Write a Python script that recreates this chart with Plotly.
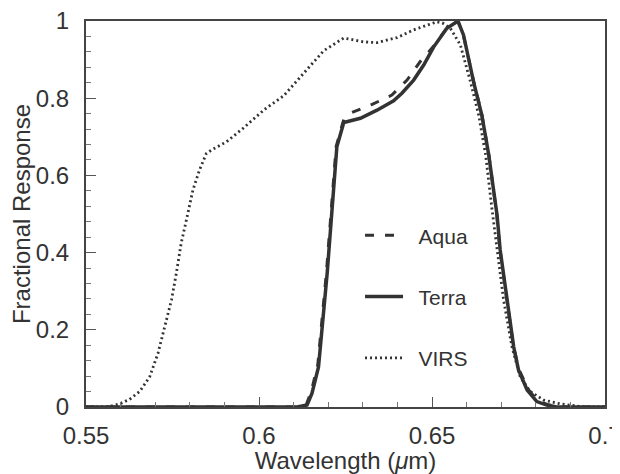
import plotly.graph_objects as go

# Terra (solid)
terra_wl = [0.550, 0.611, 0.6139, 0.6153, 0.6172, 0.6197, 0.6225, 0.6245, 0.6293, 0.6341,
            0.6389, 0.6413, 0.6447, 0.6476, 0.6505, 0.6543, 0.6575, 0.6591, 0.6620, 0.6644,
            0.6664, 0.6688, 0.6697, 0.6717, 0.6736, 0.6750, 0.6775, 0.6803, 0.6832, 0.686, 0.700]
terra_r = [0.0, 0.0, 0.005, 0.035, 0.104, 0.346, 0.674, 0.737, 0.748, 0.769,
           0.793, 0.813, 0.847, 0.886, 0.933, 0.981, 1.0, 0.964, 0.843, 0.756,
           0.653, 0.497, 0.407, 0.277, 0.156, 0.096, 0.044, 0.014, 0.005, 0.0, 0.0]

# Aqua (dashed)
aqua_wl = [0.550, 0.6108, 0.6137, 0.6151, 0.6170, 0.6195, 0.6223, 0.6245, 0.6269, 0.6327,
           0.6384, 0.6428, 0.6466, 0.6505, 0.6543, 0.6575, 0.6591, 0.6620, 0.6644, 0.6664,
           0.6687, 0.6696, 0.6716, 0.6735, 0.6750, 0.6777, 0.6805, 0.6835, 0.687, 0.700]
aqua_r = [0.0, 0.0, 0.007, 0.04, 0.11, 0.35, 0.675, 0.745, 0.763, 0.784,
          0.808, 0.847, 0.895, 0.935, 0.982, 1.0, 0.962, 0.845, 0.758, 0.655,
          0.50, 0.41, 0.28, 0.16, 0.10, 0.047, 0.016, 0.006, 0.0, 0.0]

# VIRS (dotted)
virs_wl = [0.550, 0.556, 0.5597, 0.5626, 0.5655, 0.5684, 0.5708, 0.5727, 0.5747, 0.5761,
           0.5775, 0.5790, 0.5809, 0.5828, 0.5848, 0.5867, 0.5906, 0.5954, 0.6016, 0.6071,
           0.6129, 0.6187, 0.6245, 0.6302, 0.6341, 0.6399, 0.6447, 0.6486, 0.6514, 0.6530,
           0.6553, 0.6582, 0.6611, 0.6635, 0.6655, 0.6673, 0.6688, 0.6707, 0.6731, 0.6755,
           0.6784, 0.6823, 0.6871, 0.6909, 0.694, 0.700]
virs_r = [0.0, 0.0, 0.008, 0.02, 0.04, 0.078, 0.139, 0.208, 0.277, 0.346,
          0.424, 0.484, 0.562, 0.614, 0.657, 0.668, 0.687, 0.722, 0.771, 0.806,
          0.864, 0.923, 0.956, 0.946, 0.944, 0.957, 0.977, 0.990, 0.998, 0.995,
          0.981, 0.938, 0.843, 0.756, 0.653, 0.515, 0.407, 0.277, 0.156, 0.078,
          0.040, 0.018, 0.008, 0.003, 0.0, 0.0]

series_names = ["Aqua", "Terra", "VIRS"]

x_ticks = [0.55, 0.6, 0.65, 0.7]
x_tick_labels = ["0.55", "0.6", "0.65", "0.7"]
y_ticks = [0, 0.2, 0.4, 0.6, 0.8, 1]
y_tick_labels = ["0", "0.2", "0.4", "0.6", "0.8", "1"]

INK = "#333333"
FONT = "Liberation Sans, Arial, sans-serif"
FS = 24
PAD = "\u2002"  # small lead-in gap between legend sample and label

fig = go.Figure()
fig.add_trace(go.Scatter(x=aqua_wl, y=aqua_r, mode="lines", name=PAD + series_names[0], legendgroup="a",
                         line=dict(color=INK, width=3, dash="9px,11px")))
fig.add_trace(go.Scatter(x=terra_wl, y=terra_r, mode="lines", name=PAD + series_names[1], legendgroup="t",
                         line=dict(color=INK, width=3.5)))
fig.add_trace(go.Scatter(x=virs_wl, y=virs_r, mode="lines", name=PAD + series_names[2], legendgroup="v",
                         line=dict(color=INK, width=2.8, dash="2px,3px")))

# the page body has an 8px margin, so the figure is 612x466 and offset by 8px
fig.update_layout(
    width=612, height=466,
    margin=dict(l=78, r=15, t=13, b=67),
    paper_bgcolor="white", plot_bgcolor="white",
    font=dict(family=FONT, size=FS, color=INK),
    legend=dict(x=0.528, y=0.497, xanchor="left", yanchor="top",
                bgcolor="rgba(0,0,0,0)", tracegroupgap=31, itemwidth=38,
                font=dict(size=21, color=INK), traceorder="grouped"),
    showlegend=True,
)
fig.update_xaxes(
    range=[0.55, 0.7], tickvals=x_ticks, ticktext=x_tick_labels, automargin=False,
    ticks="inside", ticklen=10, tickwidth=1.2, tickcolor="#555", ticklabeloverflow="allow",
    minor=dict(dtick=0.01, tick0=0.55, ticks="inside", ticklen=5, tickcolor="#777", tickwidth=1),
    showline=True, linecolor="#444", linewidth=2, mirror=True,
    showgrid=False, zeroline=False, ticklabelstandoff=6,
    title=dict(text="Wavelength (<i>μ</i>m)", standoff=0, font=dict(size=FS)),
)
fig.update_yaxes(
    range=[0, 1], tickvals=y_ticks, ticktext=y_tick_labels, automargin=False,
    ticks="inside", ticklen=10, tickwidth=1.2, tickcolor="#555", ticklabeloverflow="allow",
    minor=dict(dtick=0.04, tick0=0, ticks="inside", ticklen=5, tickcolor="#777", tickwidth=1),
    showline=True, linecolor="#444", linewidth=2, mirror=True,
    showgrid=False, zeroline=False, ticklabelstandoff=10,
    title=dict(text="Fractional Response", standoff=0, font=dict(size=FS)),
)

fig.write_html("out.html")
